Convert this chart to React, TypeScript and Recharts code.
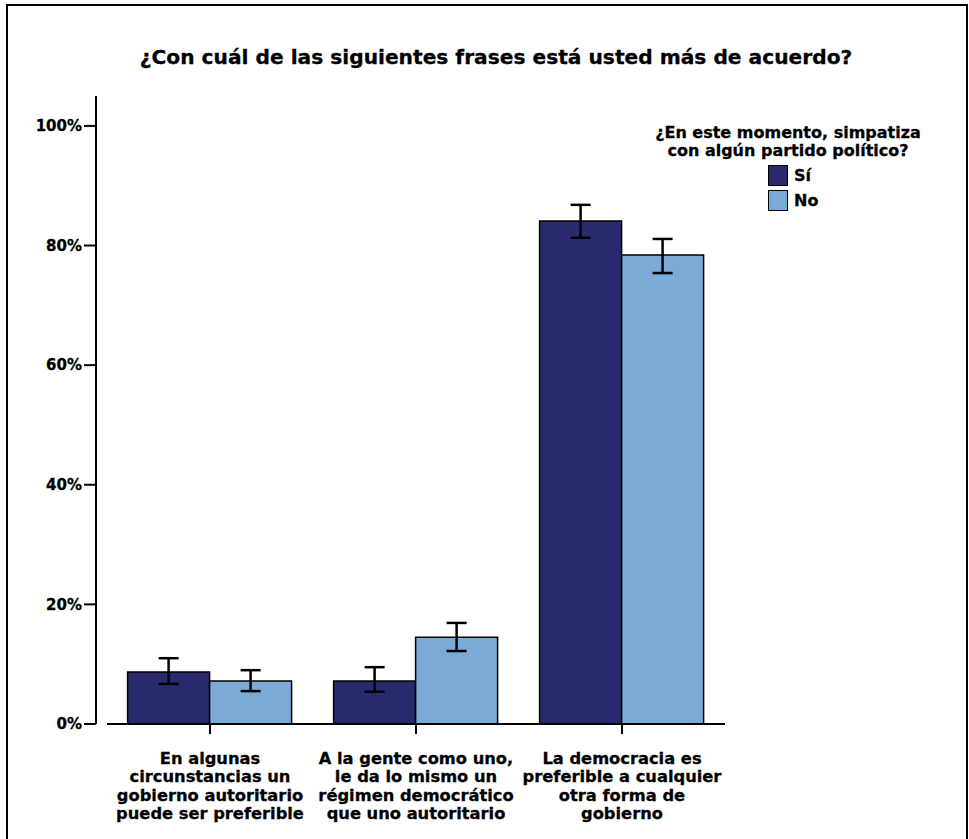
import { Bar, BarChart, ErrorBar, XAxis, YAxis } from "recharts"

const categoryLines = [
    ["En algunas", "circunstancias un", "gobierno autoritario", "puede ser preferible"],
    ["A la gente como uno,", "le da lo mismo un", "régimen democrático", "que uno autoritario"],
    ["La democracia es", "preferible a cualquier", "otra forma de", "gobierno"],
]

// Sí
const siValues = [8.7, 7.2, 84.1]
const siLow = [6.7, 5.4, 81.3]
const siHigh = [11.0, 9.5, 86.8]

// No
const noValues = [7.2, 14.5, 78.4]
const noLow = [5.5, 12.2, 75.4]
const noHigh = [9.0, 16.9, 81.1]

const yTicks = [0, 20, 40, 60, 80, 100]

const SI_COLOR = "#292a6e"
const NO_COLOR = "#7baad6"

const data = categoryLines.map((lines, i) => ({
    name: lines.join(" "),
    si: siValues[i],
    siErr: [siValues[i] - siLow[i], siHigh[i] - siValues[i]],
    no: noValues[i],
    noErr: [noValues[i] - noLow[i], noHigh[i] - noValues[i]],
}))

const font = "'DejaVu Sans', sans-serif"

function CategoryTick(props: any) {
    const { x, y, index } = props
    const lines = categoryLines[index] || []
    return (
        <g transform={`translate(${x},${y})`}>
            {lines.map((line, i) => (
                <text
                    key={i}
                    x={0}
                    y={28 + i * 18.4}
                    textAnchor="middle"
                    fontFamily={font}
                    fontWeight="bold"
                    fontSize={16.3}
                    fill="#000"
                    stroke="#000"
                    strokeWidth={0.3}
                >
                    {line}
                </text>
            ))}
        </g>
    )
}

function LegendBox() {
    const items = [
        { label: "Sí", color: SI_COLOR },
        { label: "No", color: NO_COLOR },
    ]
    return (
        <div
            style={{
                position: "absolute",
                left: 630,
                top: 124,
                width: 316,
                fontFamily: font,
                fontWeight: "bold",
                fontSize: 16,
                lineHeight: "17.5px",
                textAlign: "center",
                color: "#000",
                WebkitTextStroke: "0.3px #000",
            }}
        >
            <div>¿En este momento, simpatiza</div>
            <div>con algún partido político?</div>
            <div style={{ marginTop: 4, marginLeft: 138 }}>
                {items.map((it) => (
                    <div key={it.label} style={{ display: "flex", alignItems: "center", height: 25 }}>
                        <div
                            style={{
                                width: 18,
                                height: 19,
                                background: it.color,
                                border: "1.5px solid #000",
                                marginRight: 6,
                            }}
                        />
                        <span>{it.label}</span>
                    </div>
                ))}
            </div>
        </div>
    )
}

export default function App() {
    return (
        <div style={{ position: "absolute", left: 0, top: 0, width: 969, height: 839, background: "#fff" }}>
            <div
                style={{
                    position: "absolute",
                    left: 6,
                    top: 4,
                    width: 958,
                    height: 840,
                    borderTop: "2.5px solid #000",
                    borderLeft: "2.5px solid #000",
                    borderRight: "2.5px solid #000",
                }}
            />
            <div
                style={{
                    position: "absolute",
                    left: 0,
                    top: 45,
                    width: 992,
                    textAlign: "center",
                    fontFamily: font,
                    fontWeight: "bold",
                    fontSize: 20.2,
                    lineHeight: "24px",
                    color: "#000",
                    WebkitTextStroke: "0.3px #000",
                }}
            >
                ¿Con cuál de las siguientes frases está usted más de acuerdo?
            </div>
            <BarChart
                width={969}
                height={839}
                data={data}
                margin={{ top: 96, right: 244, bottom: 15, left: 0 }}
                barCategoryGap="10%"
                barGap={0}
            >
                <YAxis
                    width={96}
                    domain={[0, 105]}
                    ticks={yTicks}
                    tickFormatter={(v) => `${v}%`}
                    axisLine={{ stroke: "#000", strokeWidth: 2 }}
                    tickLine={{ stroke: "#000", strokeWidth: 2 }}
                    tickSize={12}
                    tick={{ fill: "#000", fontFamily: font, fontWeight: "bold", fontSize: 15, stroke: "#000", strokeWidth: 0.3 }}
                    allowDataOverflow
                />
                <XAxis
                    dataKey="name"
                    height={100}
                    padding={{ left: 11, right: 0 }}
                    axisLine={{ stroke: "#000", strokeWidth: 2, strokeDasharray: "0 11 700" }}
                    tickLine={{ stroke: "#000", strokeWidth: 2 }}
                    tickSize={10}
                    interval={0}
                    tick={<CategoryTick />}
                />
                <Bar dataKey="si" fill={SI_COLOR} stroke="#000" strokeWidth={1.5} isAnimationActive={false}>
                    <ErrorBar dataKey="siErr" width={10} stroke="#000" strokeWidth={2.5} direction="y" />
                </Bar>
                <Bar dataKey="no" fill={NO_COLOR} stroke="#000" strokeWidth={1.5} isAnimationActive={false}>
                    <ErrorBar dataKey="noErr" width={10} stroke="#000" strokeWidth={2.5} direction="y" />
                </Bar>
            </BarChart>
            <LegendBox />
        </div>
    )
}
